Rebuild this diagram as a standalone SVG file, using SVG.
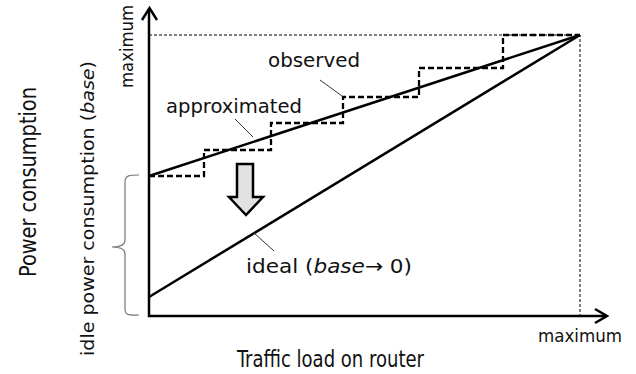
<svg xmlns="http://www.w3.org/2000/svg" width="636" height="374" viewBox="0 0 636 374">
  <style>
    text { font-family: "DejaVu Sans Condensed", "DejaVu Sans", sans-serif; fill: #111; }
    .big { font-size: 23px; }
    .mid { font-size: 20px; }
    .small { font-size: 17px; }
    .axis { fill: none; stroke: #000; stroke-width: 2.5; }
    .line { fill: none; stroke: #000; stroke-width: 2.5; }
    .obs { fill: none; stroke: #000; stroke-width: 2.3; stroke-dasharray: 6 3; }
    .guide { fill: none; stroke: #000; stroke-width: 1; stroke-dasharray: 3 2; }
    .ptr { fill: none; stroke: #333; stroke-width: 1; }
    .it { font-style: italic; }
  </style>

  <!-- guide lines to the maximum point -->
  <g id="guides">
    <path class="guide" d="M149 35 H580 V316"/>
  </g>

  <!-- axes -->
  <g id="axes">
    <path class="axis" d="M149 9 V316 H606"/>
    <path class="axis" d="M142 20 L149.5 8 L157 20"/>
    <path class="axis" d="M595 309 L607 316 L595 323"/>
  </g>

  <g id="connectors">
    <!-- approximated linear model -->
    <line class="line" x1="149" y1="176" x2="580" y2="35"/>
    <!-- ideal model -->
    <line class="line" x1="149" y1="297" x2="580" y2="35"/>
    <!-- observed staircase -->
    <path class="obs" d="M149 176 H204 V150 H271 V123 H343 V97 H419 V68 H503 V35 H580"/>
    <!-- label pointers -->
    <line class="ptr" x1="320" y1="80" x2="342" y2="96"/>
    <line class="ptr" x1="235" y1="119" x2="253" y2="137"/>
    <line class="ptr" x1="254" y1="233" x2="274" y2="251"/>
  </g>

  <!-- downward block arrow -->
  <g id="shift-arrow">
    <path d="M237 164 H253 V197 H263 L246 215 L229 197 H237 Z" fill="#e2e2e2" stroke="#000" stroke-width="2.5" stroke-linejoin="miter"/>
  </g>

  <!-- brace marking idle power -->
  <g id="idle-brace">
    <path d="M139 175 C130 175 125 175 125 182 V240 C125 245 120 247 112 247 C120 247 125 249 125 254 V309 C125 316 130 315 139 315" fill="none" stroke="#777" stroke-width="1.2"/>
  </g>

  <g id="labels">
    <text id="lbl-observed" class="mid" x="268" y="67" textLength="92" lengthAdjust="spacingAndGlyphs">observed</text>
    <text id="lbl-approx" class="mid" x="166" y="113" textLength="136" lengthAdjust="spacingAndGlyphs">approximated</text>
    <text id="lbl-ideal" class="mid" x="246" y="273" textLength="166" lengthAdjust="spacingAndGlyphs">ideal (<tspan class="it">base</tspan>→ 0)</text>
    <text id="lbl-xmax" class="small" x="538" y="342" textLength="84" lengthAdjust="spacingAndGlyphs">maximum</text>
    <text id="lbl-ymax" class="small" transform="translate(133 88) rotate(-90)" textLength="83" lengthAdjust="spacingAndGlyphs">maximum</text>
    <text id="lbl-xaxis" class="big" x="237" y="367" textLength="187" lengthAdjust="spacingAndGlyphs">Traffic load on router</text>
    <text id="lbl-yaxis" class="big" transform="translate(36 277) rotate(-90)" textLength="190" lengthAdjust="spacingAndGlyphs">Power consumption</text>
    <text id="lbl-idle" class="small" transform="translate(94 356) rotate(-90)" textLength="295" lengthAdjust="spacingAndGlyphs">idle power consumption (<tspan class="it">base</tspan>)</text>
  </g>
</svg>
